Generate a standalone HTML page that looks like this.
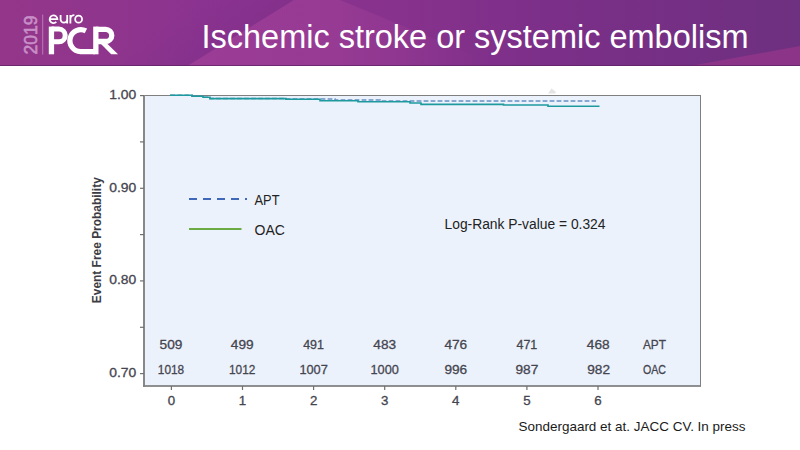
<!DOCTYPE html>
<html><head><meta charset="utf-8">
<style>
html,body{margin:0;padding:0;background:#fff;width:800px;height:450px;overflow:hidden;}
svg{display:block;font-family:"Liberation Sans",sans-serif;}
</style></head><body>
<svg width="800" height="450" viewBox="0 0 800 450">
<defs>
<linearGradient id="hg" x1="0" y1="0" x2="800" y2="0" gradientUnits="userSpaceOnUse">
<stop offset="0" stop-color="#94378a"/>
<stop offset="0.25" stop-color="#8b3390"/>
<stop offset="0.5" stop-color="#87328d"/>
<stop offset="0.7" stop-color="#7b2f88"/>
<stop offset="1" stop-color="#6e3080"/>
</linearGradient>
<linearGradient id="wg" x1="190" y1="0" x2="480" y2="0" gradientUnits="userSpaceOnUse">
<stop offset="0" stop-color="#a8449a" stop-opacity="0.55"/>
<stop offset="0.5" stop-color="#a8449a" stop-opacity="0.45"/>
<stop offset="1" stop-color="#a4439c" stop-opacity="0"/>
</linearGradient>
<linearGradient id="db" x1="214.4" y1="-9.5" x2="240.75" y2="33" gradientUnits="userSpaceOnUse">
<stop offset="0" stop-color="#6e2a80" stop-opacity="0"/>
<stop offset="1" stop-color="#6e2a80" stop-opacity="0.2"/>
</linearGradient>
</defs>
<!-- header -->
<rect x="0" y="0" width="800" height="66" fill="url(#hg)"/>
<polygon points="100,66 187.5,66 294,0 200,0" fill="url(#db)"/>
<polygon points="187.5,66 294,0 340,0 500,66" fill="url(#wg)"/>
<polygon points="690,66 800,46 800,66" fill="#8e3588" opacity="0.9"/>
<rect x="0" y="65" width="800" height="1" fill="#5f2366" opacity="0.75"/>
<!-- logo -->
<text transform="translate(36.6,54.5) rotate(-90)" font-size="18.6" fill="#c88fc8" stroke="#c88fc8" stroke-width="0.6" textLength="39" lengthAdjust="spacingAndGlyphs">2019</text>
<rect x="42.2" y="14.6" width="1" height="40" fill="#b77ab5"/>
<g fill="none" stroke="#fff" stroke-width="1.8">
<path d="M49.7,19.15 H57.4 A3.85,3.85 0 1 0 56.3,21.9"/>
<path d="M60.6,14.9 V19.4 A3.3,3.3 0 0 0 67.2,19.4 M67.2,14.9 V23.4"/>
<path d="M70.4,14.9 V23.4 M70.4,19.2 A4,4 0 0 1 74.4,15.2"/>
<circle cx="78.6" cy="19.15" r="3.45"/>
</g>
<g fill="none" stroke="#fff" stroke-width="5.3">
<path d="M51.45,26.6 V54.3"/>
<path d="M51.45,29.1 H58.85 A6.35,6.35 0 0 1 58.85,41.8 H51.45" stroke-width="5"/>
<path d="M85.93,30.83 A11,11 0 1 0 80.6,51.6 H95"/>
<path d="M95.85,26.6 V54.3"/>
<path d="M95.85,29.3 H105.65 A6.1,6.1 0 0 1 105.65,41.5 H95.85"/>
</g>
<polygon points="100.5,43.5 107,43.5 118,54.3 111.2,54.3" fill="#fff"/>
<!-- title -->
<text x="201.5" y="48" font-size="32.7" fill="#fff" textLength="547" lengthAdjust="spacingAndGlyphs">Ischemic stroke or systemic embolism</text>

<!-- plot -->
<polygon points="548,93.6 551.5,88.5 556,92 555,93.6" fill="#e4e4e4"/>
<rect x="144.5" y="95.5" width="556" height="290.5" fill="#ecf2fb" stroke="#7f7f7f" stroke-width="1"/>
<line x1="144" y1="95" x2="144" y2="387" stroke="#888" stroke-width="2"/>
<line x1="143" y1="386" x2="701" y2="386" stroke="#808080" stroke-width="1.7"/>
<g stroke="#707070" stroke-width="1.2">
<line x1="140" y1="95.6" x2="144" y2="95.6"/>
<line x1="140" y1="141.9" x2="144" y2="141.9"/>
<line x1="140" y1="188.3" x2="144" y2="188.3"/>
<line x1="140" y1="234.6" x2="144" y2="234.6"/>
<line x1="140" y1="280.9" x2="144" y2="280.9"/>
<line x1="140" y1="327.3" x2="144" y2="327.3"/>
<line x1="140" y1="373.6" x2="144" y2="373.6"/>
<line x1="171.4" y1="386" x2="171.4" y2="390"/>
<line x1="242.5" y1="386" x2="242.5" y2="390"/>
<line x1="313.6" y1="386" x2="313.6" y2="390"/>
<line x1="384.7" y1="386" x2="384.7" y2="390"/>
<line x1="455.8" y1="386" x2="455.8" y2="390"/>
<line x1="526.9" y1="386" x2="526.9" y2="390"/>
<line x1="598" y1="386" x2="598" y2="390"/>
</g>
<g font-size="12.9" fill="#454550" stroke="#454550" stroke-width="0.3" text-anchor="end">
<text x="136.2" y="99.1" textLength="27" lengthAdjust="spacingAndGlyphs">1.00</text>
<text x="136.2" y="191.8" textLength="27" lengthAdjust="spacingAndGlyphs">0.90</text>
<text x="136.2" y="284.4" textLength="27" lengthAdjust="spacingAndGlyphs">0.80</text>
<text x="136.2" y="377.1" textLength="27" lengthAdjust="spacingAndGlyphs">0.70</text>
</g>
<g font-size="12.6" fill="#454550" stroke="#454550" stroke-width="0.3" text-anchor="middle">
<text x="171.4" y="404.7" textLength="7.4" lengthAdjust="spacingAndGlyphs">0</text>
<text x="242.5" y="404.7" textLength="7.4" lengthAdjust="spacingAndGlyphs">1</text>
<text x="313.6" y="404.7" textLength="7.4" lengthAdjust="spacingAndGlyphs">2</text>
<text x="384.7" y="404.7" textLength="7.4" lengthAdjust="spacingAndGlyphs">3</text>
<text x="455.8" y="404.7" textLength="7.4" lengthAdjust="spacingAndGlyphs">4</text>
<text x="526.9" y="404.7" textLength="7.4" lengthAdjust="spacingAndGlyphs">5</text>
<text x="598" y="404.7" textLength="7.4" lengthAdjust="spacingAndGlyphs">6</text>
</g>
<g font-size="12.6" fill="#454550" stroke="#454550" stroke-width="0.3" text-anchor="middle">
<text x="171" y="349.2" textLength="22.8" lengthAdjust="spacingAndGlyphs">509</text>
<text x="242.2" y="349.2" textLength="22.8" lengthAdjust="spacingAndGlyphs">499</text>
<text x="313.6" y="349.2" textLength="20.8" lengthAdjust="spacingAndGlyphs">491</text>
<text x="384.7" y="349.2" textLength="22.8" lengthAdjust="spacingAndGlyphs">483</text>
<text x="455.8" y="349.2" textLength="22.8" lengthAdjust="spacingAndGlyphs">476</text>
<text x="526.9" y="349.2" textLength="20.8" lengthAdjust="spacingAndGlyphs">471</text>
<text x="598.2" y="349.2" textLength="22.8" lengthAdjust="spacingAndGlyphs">468</text>
<text x="654.4" y="349.2" textLength="23" lengthAdjust="spacingAndGlyphs">APT</text>
<text x="171" y="373.5" textLength="26.4" lengthAdjust="spacingAndGlyphs">1018</text>
<text x="242.2" y="373.5" textLength="26.4" lengthAdjust="spacingAndGlyphs">1012</text>
<text x="313.6" y="373.5" textLength="28.4" lengthAdjust="spacingAndGlyphs">1007</text>
<text x="384.7" y="373.5" textLength="28.4" lengthAdjust="spacingAndGlyphs">1000</text>
<text x="455.8" y="373.5" textLength="22.8" lengthAdjust="spacingAndGlyphs">996</text>
<text x="526.9" y="373.5" textLength="22.8" lengthAdjust="spacingAndGlyphs">987</text>
<text x="598.6" y="373.5" textLength="22.8" lengthAdjust="spacingAndGlyphs">982</text>
<text x="654.5" y="373.5" textLength="23" lengthAdjust="spacingAndGlyphs">OAC</text>
</g>
<text transform="translate(101.4,303.2) rotate(-90)" font-size="12.8" font-weight="bold" fill="#3c3c44" textLength="126" lengthAdjust="spacingAndGlyphs">Event Free Probability</text>

<!-- curves -->
<polyline fill="none" stroke="#6590c2" stroke-width="1.6" stroke-dasharray="4.8 2.2" stroke-dashoffset="6.6" points="170,95.2 192,95.2 192,96.2 203,96.2 203,97.3 210,97.3 210,98.5 286,98.5 286,99 335,99 335,100 380,100 380,101 596,101"/>
<polyline fill="none" stroke="#1c9a9e" stroke-width="1.6" points="170,95.2 192,95.2 192,96.2 203,96.2 203,97.3 210,97.3 210,98.6 286,98.6 286,99.2 320,99.2 320,100.8 358,100.8 358,101.8 410,101.8 410,103 421,103 421,104.4 503.5,104.4 503.5,105 548,105 548,106.3 599.5,106.3"/>

<!-- legend -->
<line x1="189" y1="199" x2="247" y2="199" stroke="#3f68b8" stroke-width="1.8" stroke-dasharray="8 6"/>
<line x1="189" y1="229" x2="241.5" y2="229" stroke="#6aab44" stroke-width="2"/>
<g font-size="14" fill="#222">
<text x="254.5" y="205" textLength="25" lengthAdjust="spacingAndGlyphs">APT</text>
<text x="254.5" y="235">OAC</text>
</g>
<text x="444.5" y="228.7" font-size="13.8" fill="#222" textLength="161" lengthAdjust="spacingAndGlyphs">Log-Rank P-value = 0.324</text>

<!-- footer -->
<text x="518.5" y="431" font-size="13.6" fill="#1a1a1a" textLength="227" lengthAdjust="spacingAndGlyphs">Sondergaard et at. JACC CV. In press</text>
</svg>
</body></html>
